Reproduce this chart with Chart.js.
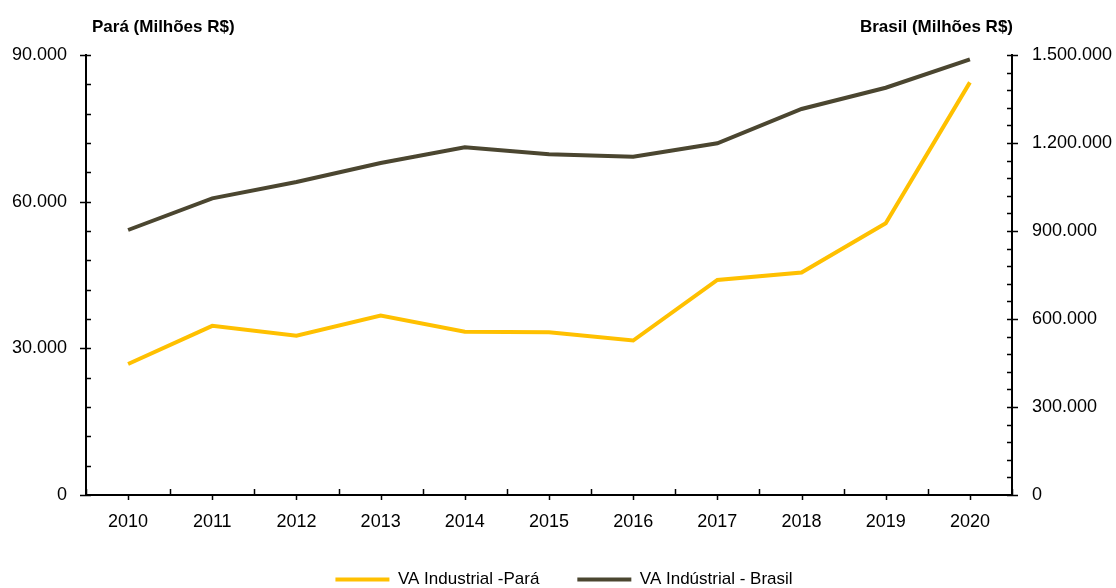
<!DOCTYPE html>
<html>
<head>
<meta charset="utf-8">
<script src="https://cdn.jsdelivr.net/npm/chart.js@4/dist/chart.umd.min.js"></script>
<style>
  html, body { margin: 0; padding: 0; background: #fff; }
  #wrap { width: 1116px; height: 588px; }
</style>
</head>
<body>
<div id="wrap"><canvas id="VaIndustrialStats" width="1116" height="588"></canvas></div>
<script>
//
//
// Data
var anos = ['2010', '2011', '2012', '2013', '2014', '2015', '2016', '2017', '2018', '2019', '2020'];
var va_para = [26800, 34600, 32600, 36700, 33400, 33300, 31600, 44000, 45500, 55600, 84400];
var va_brasil = [903400, 1011400, 1067000, 1131800, 1185300, 1161400, 1153300, 1198900, 1315900, 1388500, 1485200];
var ticks_para = [0, 30000, 60000, 90000];
var ticks_brasil = [0, 300000, 600000, 900000, 1200000, 1500000];
var label_para = 'VA Industrial -Pará';
var label_brasil = 'VA Indústrial - Brasil';
var titulo_para = 'Pará (Milhões R$)';
var titulo_brasil = 'Brasil (Milhões R$)';

var font_family = '"Liberation Sans", Arial, sans-serif';
var cor_para = '#FFC000';
var cor_brasil = '#4B4630';

//
// 90000 -> "90.000"
function formatNumber(v){
  return String(v).replace(/\B(?=(\d{3})+(?!\d))/g, '.');
}

//
//
// Axis ticks (major crossing, minor inside) and the two axis titles
var eixos_plugin = {
  id: 'eixos',
  afterDraw: function(chart){
    var ctx = chart.ctx;
    var sx = chart.scales.x;
    var sy = chart.scales.y;
    var sy1 = chart.scales.y1;
    var area = chart.chartArea;
    var i, p, v;

    ctx.save();
    ctx.strokeStyle = '#000';
    ctx.lineWidth = 1.5;
    ctx.beginPath();

    // left axis
    for (v = 0; v <= 90000; v += 6000){
      p = Math.round(sy.getPixelForValue(v)) + 0.5;
      if (v % 30000 === 0){
        ctx.moveTo(area.left - 6, p);
      } else {
        ctx.moveTo(area.left, p);
      }
      ctx.lineTo(area.left + 5, p);
    }

    // right axis
    for (v = 0; v <= 1500000; v += 60000){
      p = Math.round(sy1.getPixelForValue(v)) + 0.5;
      ctx.moveTo(area.right - 5, p);
      if (v % 300000 === 0){
        ctx.lineTo(area.right + 6, p);
      } else {
        ctx.lineTo(area.right, p);
      }
    }

    // x axis: down at the years, up between them
    for (i = 0; i < anos.length; i++){
      p = Math.round(sx.getPixelForValue(i)) + 0.5;
      ctx.moveTo(p, area.bottom);
      ctx.lineTo(p, area.bottom + 5);
    }
    for (i = 0; i <= anos.length; i++){
      p = Math.round(sx.getPixelForValue(i - 0.5)) + 0.5;
      ctx.moveTo(p, area.bottom - 6);
      ctx.lineTo(p, area.bottom);
    }
    ctx.stroke();

    // titles
    ctx.fillStyle = '#000';
    ctx.font = 'bold 17px ' + font_family;
    ctx.textBaseline = 'middle';
    ctx.textAlign = 'left';
    ctx.fillText(titulo_para, 92, 27);
    ctx.textAlign = 'right';
    ctx.fillText(titulo_brasil, area.right + 1, 27);
    ctx.restore();
  }
};

//
//
// Draw Chart
var va_stats = document.getElementById('VaIndustrialStats').getContext('2d');
var bottom_pad = -10;
var left_pad = 12;

new Chart(va_stats, {
  type: 'line',
  data: {
    labels: anos,
    datasets: [{
      label: label_para,
      data: va_para,
      yAxisID: 'y',
      borderColor: cor_para,
      backgroundColor: cor_para,
      borderWidth: 4,
      pointRadius: 0,
      tension: 0,
      fill: false
    }, {
      label: label_brasil,
      data: va_brasil,
      yAxisID: 'y1',
      borderColor: cor_brasil,
      backgroundColor: cor_brasil,
      borderWidth: 4,
      pointRadius: 0,
      tension: 0,
      fill: false
    }]
  },
  options: {
    responsive: false,
    animation: false,
    devicePixelRatio: 1,
    layout: {
      padding: { top: 55, left: left_pad, right: 0, bottom: bottom_pad }
    },
    plugins: {
      tooltip: { enabled: false },
      legend: {
        position: 'bottom',
        labels: {
          boxWidth: 54,
          boxHeight: 4,
          padding: 38,
          color: '#000',
          font: { family: font_family, size: 17 },
          generateLabels: function(chart){
            var items = Chart.defaults.plugins.legend.labels.generateLabels(chart);
            items.forEach(function(item){
              item.lineWidth = 0;
            });
            return items;
          }
        }
      }
    },
    scales: {
      x: {
        type: 'category',
        offset: true,
        grid: { display: false, drawTicks: false, offset: true },
        border: { display: true, color: '#000', width: 2 },
        ticks: {
          color: '#000',
          padding: 16,
          maxRotation: 0,
          font: { family: font_family, size: 18 }
        },
        afterFit: function(scale){
          var legend_h = scale.chart.legend ? scale.chart.legend.height : 0;
          scale.height = 588 - bottom_pad - 495 - legend_h;
        }
      },
      y: {
        position: 'left',
        min: 0,
        max: 90000,
        grid: { display: false, drawTicks: false },
        border: { display: true, color: '#000', width: 2 },
        afterBuildTicks: function(scale){
          scale.ticks = ticks_para.map(function(v){ return { value: v }; });
        },
        ticks: {
          color: '#000',
          padding: 19,
          font: { family: font_family, size: 18 },
          callback: function(v){ return formatNumber(v); }
        },
        afterFit: function(scale){ scale.width = 86 - left_pad; }
      },
      y1: {
        position: 'right',
        min: 0,
        max: 1500000,
        grid: { display: false, drawTicks: false },
        border: { display: true, color: '#000', width: 2 },
        afterBuildTicks: function(scale){
          scale.ticks = ticks_brasil.map(function(v){ return { value: v }; });
        },
        ticks: {
          color: '#000',
          padding: 20,
          font: { family: font_family, size: 18 },
          callback: function(v){ return formatNumber(v); }
        },
        afterFit: function(scale){ scale.width = 104; }
      }
    }
  },
  plugins: [eixos_plugin]
});
</script>
</body>
</html>
